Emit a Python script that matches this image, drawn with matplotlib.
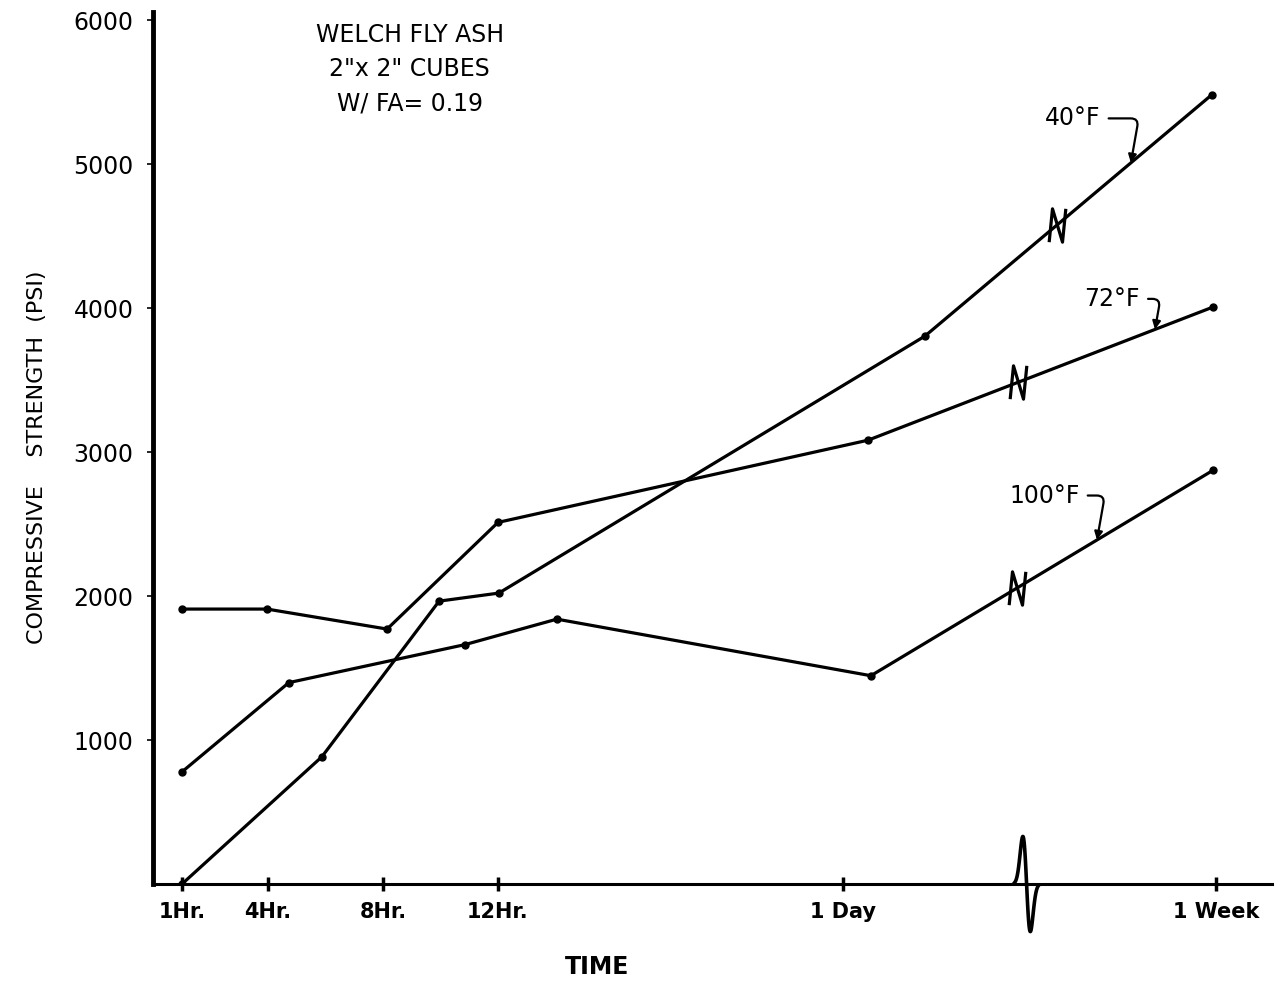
import numpy as np
import matplotlib
matplotlib.use("Agg")
import matplotlib.pyplot as plt
import matplotlib.transforms as mtransforms

# x is an axis position in hours up to 1 day; past the break the
# scale is compressed so 1 week sits at ~37
tick_pos = [1, 4, 8, 12, 24, 37]
tick_labels = ["1Hr.", "4Hr.", "8Hr.", "12Hr.", "1 Day", "1 Week"]

x_40 = [1, 5.87, 9.95, 12.03, 26.86, 36.85]
y_40 = [0, 884, 1965, 2021, 3806, 5483]

x_72 = [1, 3.96, 8.14, 12.0, 24.88, 36.89]
y_72 = [1910, 1910, 1771, 2512, 3083, 4008]

x_100 = [1, 4.72, 10.85, 14.05, 24.98, 36.89]
y_100 = [779, 1399, 1663, 1840, 1447, 2874]

series = [("40°F", x_40, y_40, 31.46, 34.03, (-42, 32)),
          ("72°F", x_72, y_72, 30.1, 34.87, (-31, 22)),
          ("100°F", x_100, y_100, 30.06, 32.85, (-38, 32))]

axis_break = 30.4

fig = plt.figure(figsize=(12.8, 9.84), dpi=100)
ax = fig.add_axes([0.1195, 0.1016, 0.8742, 0.886])

# little zigzag drawn where each curve crosses the time break
zig = [(-0.5, -1.0), (-0.3, 1.0), (0.3, -1.0), (0.5, 1.0)]

for name, xs, ys, xb, xa, off in series:
    ax.plot(xs, ys, color="black", lw=2.3, marker="o", ms=5, zorder=3)
    yb = np.interp(xb, xs, ys)
    ax.plot([xb], [yb], marker=zig, ms=24, mew=2.3, color="black",
            fillstyle="none", ls="none", zorder=4)
    ya = np.interp(xa, xs, ys)
    ax.annotate(name, xy=(xa, ya), xytext=off, textcoords="offset points",
                ha="center", va="center", fontsize=17,
                arrowprops=dict(arrowstyle="-|>", color="black", lw=1.6,
                                relpos=(1.0, 0.5), shrinkA=4, shrinkB=0,
                                mutation_scale=12,
                                connectionstyle="angle,angleA=0,angleB=80,rad=8"))

ax.set_xlim(-0.01, 38.94)
ax.set_ylim(0, 6056)

ax.set_xticks(tick_pos)
ax.set_xticklabels(tick_labels, fontsize=15, fontweight="bold")
ax.set_yticks([1000, 2000, 3000, 4000, 5000, 6000])
ax.set_yticklabels(["1000", "2000", "3000", "4000", "5000", "6000"], fontsize=17)
ax.tick_params(axis="x", direction="inout", length=10, width=2.5, pad=8)
ax.tick_params(axis="y", direction="out", length=4, width=1.2, pad=10)

for s in ["top", "right"]:
    ax.spines[s].set_visible(False)
ax.spines["left"].set_linewidth(3.5)
ax.spines["bottom"].set_linewidth(2.2)

# squiggle on the time axis marking the break
trans = mtransforms.blended_transform_factory(ax.transData, ax.transAxes)
s = np.linspace(-3.2, 3.2, 120)
ax.plot(axis_break + s * 0.13, -0.09 * s * np.exp(-s ** 2 / 2), color="black",
        lw=2.6, transform=trans, clip_on=False, zorder=5)

ax.set_xlabel("TIME", fontsize=17, fontweight="bold")
ax.xaxis.set_label_coords(0.397, -0.081)
ax.set_ylabel("COMPRESSIVE    STRENGTH  (PSI)", fontsize=16)
ax.yaxis.set_label_coords(-0.095, 0.49)

fig.text(0.32, 0.977, "WELCH FLY ASH\n2\"x 2\" CUBES\nW/ FA= 0.19", ha="center",
         va="top", fontsize=17, linespacing=1.55)

fig.savefig("out.png", dpi=100)
